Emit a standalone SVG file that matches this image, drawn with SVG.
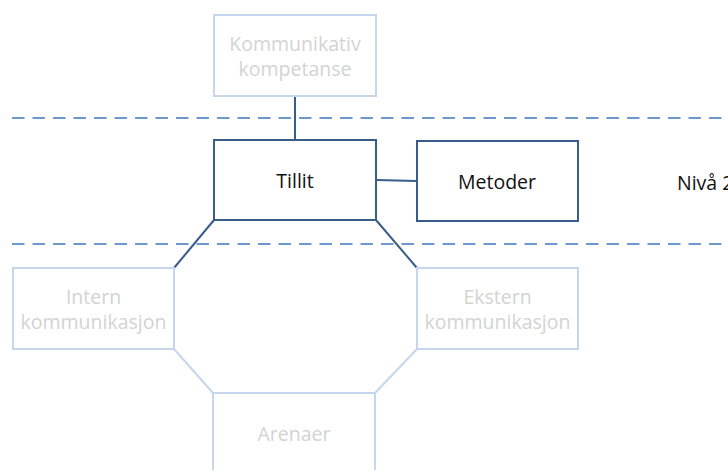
<svg xmlns="http://www.w3.org/2000/svg" width="728" height="470" viewBox="0 0 728 470">
  <style>
    .box { fill: #ffffff; stroke: #385D8A; stroke-width: 2; }
    .faint { fill: #ffffff; stroke: #C6D7EC; stroke-width: 2; }
    .label { font-family: "Open Sans", "Noto Sans", sans-serif; font-size: 19.5px; text-anchor: middle; fill: #111111; }
    .faint-label { font-family: "Open Sans", "Noto Sans", sans-serif; font-size: 19.5px; text-anchor: middle; fill: #D3D3D3; }
    .link { stroke: #385D8A; stroke-width: 2; fill: none; }
    .link-faint { stroke: #C6D7EC; stroke-width: 2; fill: none; }
    .level { stroke: #6C98CE; stroke-width: 2; stroke-dasharray: 12.5 8; fill: none; }
  </style>
  <rect width="728" height="470" fill="#ffffff"/>

  <!-- level boundaries -->
  <g id="levels">
    <line class="level" x1="12" y1="118" x2="728" y2="118"/>
    <line class="level" x1="12" y1="244" x2="728" y2="244"/>
  </g>

  <!-- connectors -->
  <g id="connectors">
    <line class="link" x1="295" y1="96" x2="295" y2="140"/>
    <line class="link" x1="376" y1="180" x2="417" y2="181"/>
    <line class="link" x1="214" y1="220" x2="174" y2="268"/>
    <line class="link" x1="376" y1="220" x2="417" y2="268"/>
    <line class="link-faint" x1="174" y1="349" x2="213" y2="393"/>
    <line class="link-faint" x1="417" y1="349" x2="375" y2="393"/>
  </g>

  <g id="kommunikativ-kompetanse">
    <rect class="faint" x="214" y="15" width="162" height="81"/>
    <text class="faint-label" x="295" y="51">Kommunikativ</text>
    <text class="faint-label" x="295" y="76">kompetanse</text>
  </g>

  <g id="tillit">
    <rect class="box" x="214" y="140" width="162" height="80"/>
    <text class="label" x="295" y="188">Tillit</text>
  </g>

  <g id="metoder">
    <rect class="box" x="417" y="141" width="161" height="80"/>
    <text class="label" x="497" y="189">Metoder</text>
  </g>

  <g id="niva-2">
    <text class="label" x="677" y="190" style="text-anchor: start">Nivå 2</text>
  </g>

  <g id="intern-kommunikasjon">
    <rect class="faint" x="13" y="268" width="161" height="81"/>
    <text class="faint-label" x="93.5" y="304">Intern</text>
    <text class="faint-label" x="93.5" y="329">kommunikasjon</text>
  </g>

  <g id="ekstern-kommunikasjon">
    <rect class="faint" x="417" y="268" width="161" height="81"/>
    <text class="faint-label" x="497.5" y="304">Ekstern</text>
    <text class="faint-label" x="497.5" y="329">kommunikasjon</text>
  </g>

  <g id="arenaer">
    <rect class="faint" x="213" y="393" width="162" height="81"/>
    <text class="faint-label" x="294" y="441">Arenaer</text>
  </g>
</svg>
